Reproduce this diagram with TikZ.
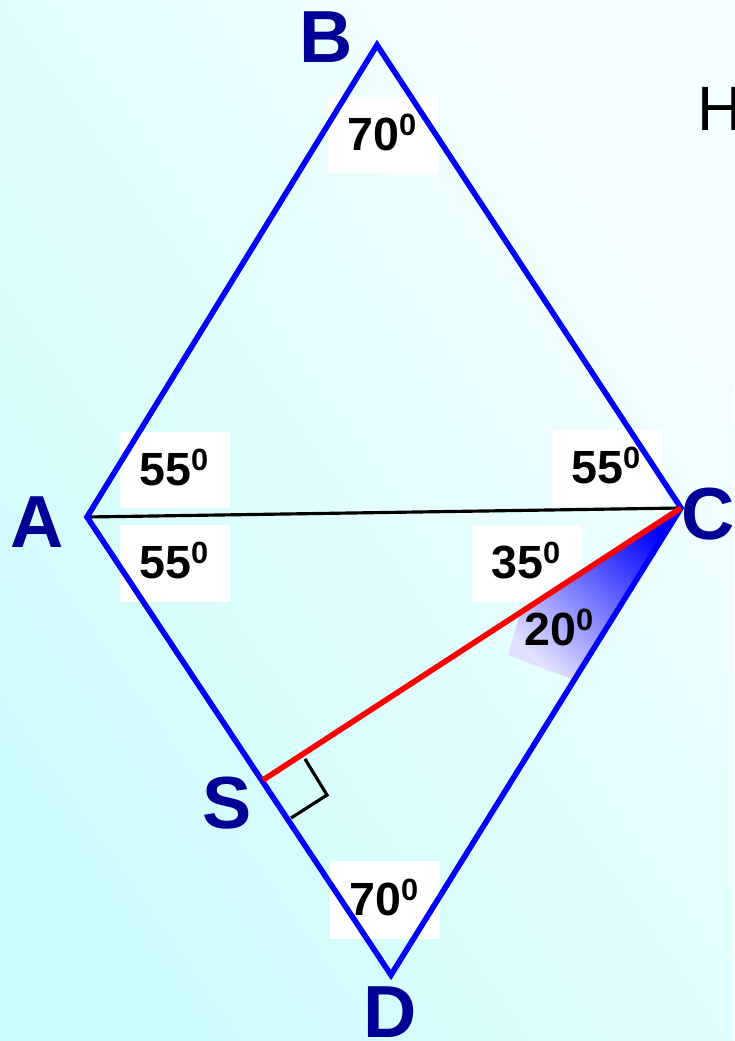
\documentclass[tikz,border=0pt]{standalone}
\usepackage{fontspec}
\setmainfont{Liberation Sans}
\definecolor{lblue}{RGB}{0,0,150}
\definecolor{lineblue}{RGB}{0,0,255}
\definecolor{bgA}{RGB}{205,252,252}
\definecolor{bgB}{RGB}{246,255,255}
\newcommand\degsup[1]{#1\raisebox{8.5pt}{\fontsize{17.5}{17.5}\selectfont 0}}
\begin{document}
\begin{tikzpicture}[x=0.02cm,y=-0.02cm,
  vlabel/.style={font=\fontsize{42}{42}\selectfont\bfseries, text=lblue, inner sep=0pt},
  angl/.style={font=\fontsize{26.5}{26.5}\selectfont\bfseries, inner sep=0pt, anchor=base west},
  wbox/.style={fill=white, draw=none},
  side/.style={draw=lineblue, line width=3.2pt, line join=miter},
]
\useasboundingbox (0,0) rectangle (734,1041);
\clip (0,0) rectangle (734,1041);
\shade[left color=bgB, right color=bgA, shading angle=-55] (0,0) rectangle (734,1041);

\coordinate (A) at (87,517);
\coordinate (B) at (377,45);
\coordinate (C) at (681,508);
\coordinate (D) at (391,975);
\coordinate (S) at (263,780);
\coordinate (R1) at (305,759);
\coordinate (R2) at (327,795);
\coordinate (R3) at (291,818);
\coordinate (G1) at (520,613);
\coordinate (G2) at (508,655);
\coordinate (G3) at (574,680);

% white boxes
\fill[wbox] (328,97) rectangle (438,173);
\fill[wbox] (120,432) rectangle (230,508);
\fill[wbox] (120,525) rectangle (230,602);
\fill[wbox] (552,430) rectangle (662,506);
\fill[wbox] (472,525) rectangle (582,602);
\fill[wbox] (330,861) rectangle (440,939);

% shaded angle
\shade[top color=lineblue, bottom color=blue!12!white, shading angle=-43] (C) -- (G1) -- (G2) -- (G3) -- cycle;

% lines
\draw[black, line width=1.8pt] (A) -- (C);
\draw[side] (A) -- (B) -- (C) -- (D) -- cycle;
\draw[red, line width=3.2pt] (C) -- (S);
\draw[black, line width=1.8pt] (R1) -- (R2) -- (R3);

% vertex labels
\node[vlabel] (lA) at (37,522) {A};
\node[vlabel] (lB) at (326,37) {B};
\node[vlabel] (lC) at (708,514) {C};
\node[vlabel] (lS) at (227,803) {S};
\node[vlabel] (lD) at (390,1012) {D};

% angle labels
\node[angl] (aB) at (347,150) {\degsup{70}};
\node[angl] (aA1) at (139,485) {\degsup{55}};
\node[angl] (aA2) at (139,578) {\degsup{55}};
\node[angl] (aC) at (571,483) {\degsup{55}};
\node[angl] (a35) at (491,578) {\degsup{35}};
\node[angl] (a20) at (524,645) {\degsup{20}};
\node[angl] (aD) at (349,915) {\degsup{70}};

\node[anchor=base west, font=\fontsize{35.7}{35.7}\selectfont, inner sep=0pt] (H) at (697,130) {H};
\end{tikzpicture}
\end{document}
